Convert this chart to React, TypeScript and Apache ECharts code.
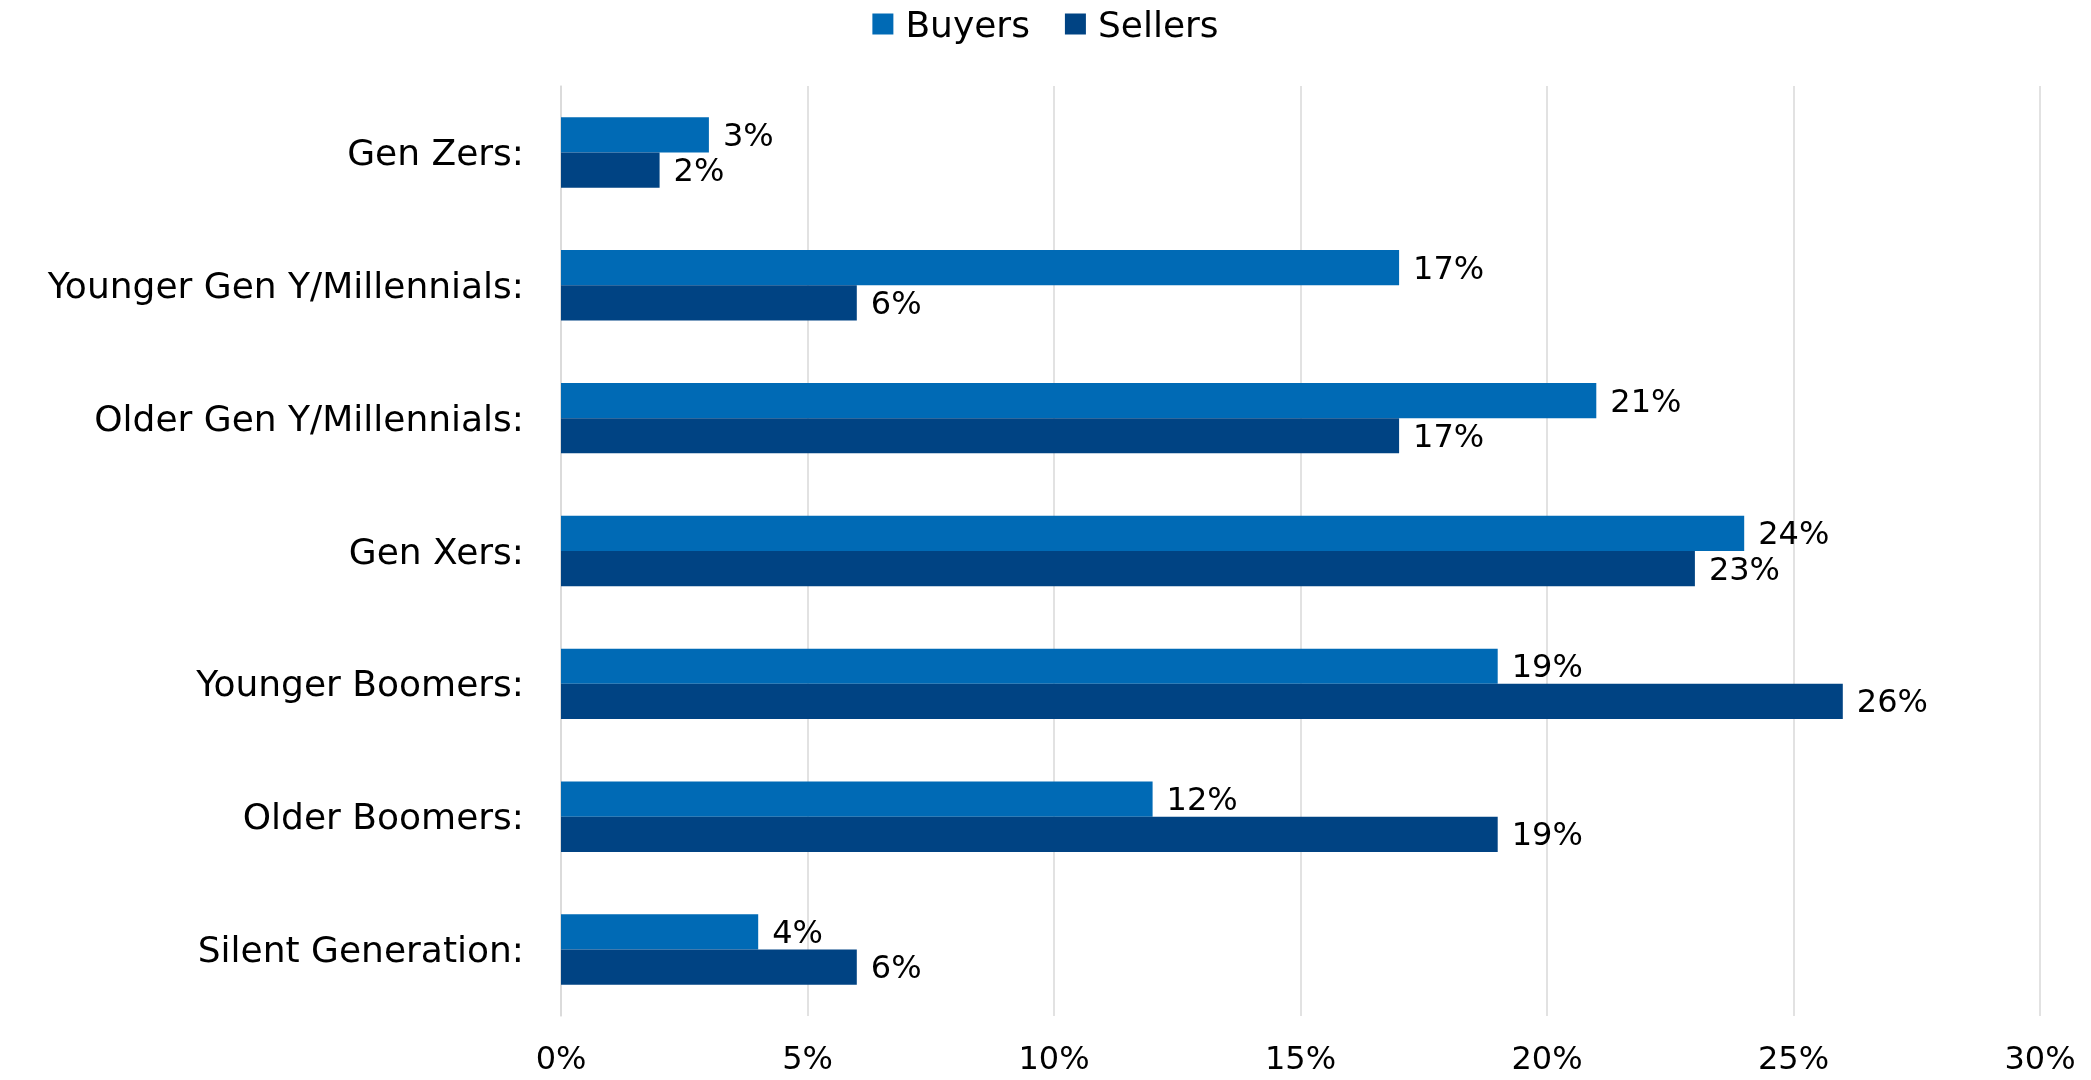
import React, { useEffect, useRef } from "react";
import * as echarts from "echarts";

const categories = [
  "Gen Zers:",
  "Younger Gen Y/Millennials:",
  "Older Gen Y/Millennials:",
  "Gen Xers:",
  "Younger Boomers:",
  "Older Boomers:",
  "Silent Generation:",
];
const buyers = [3, 17, 21, 24, 19, 12, 4];
const sellers = [2, 6, 17, 23, 26, 19, 6];
const xTicks = [0, 5, 10, 15, 20, 25, 30];

const FONT = "'DejaVu Sans', sans-serif";

export default function App() {
  const ref = useRef<HTMLDivElement>(null);
  useEffect(() => {
    if (!ref.current) return;
    const chart = echarts.init(ref.current, null, { renderer: "svg" });
    const label = {
      show: true,
      position: "right",
      distance: 14,
      formatter: "{c}%",
      color: "#000",
      fontSize: 32,
      fontFamily: FONT,
    };
    chart.setOption({
      animation: false,
      textStyle: { fontFamily: FONT },
      legend: {
        top: 6,
        left: "center",
        padding: 0,
        itemWidth: 21,
        itemHeight: 21,
        itemGap: 35,
        icon: "rect",
        textStyle: { fontSize: 36, color: "#000", fontFamily: FONT, padding: [0, 0, 0, 7] },
        data: ["Buyers", "Sellers"],
      },
      grid: { left: 561, right: 51, top: 86, bottom: 64, containLabel: false },
      xAxis: {
        type: "value",
        min: xTicks[0],
        max: xTicks[xTicks.length - 1],
        interval: 5,
        axisLine: { show: false },
        axisTick: { show: false },
        splitLine: { show: true, lineStyle: { color: "#d9d9d9", width: 1.5 } },
        axisLabel: {
          formatter: "{value}%",
          fontSize: 32,
          color: "#000",
          fontFamily: FONT,
          margin: 26,
        },
      },
      yAxis: {
        type: "category",
        inverse: true,
        data: categories,
        axisLine: { show: true, lineStyle: { color: "#d9d9d9", width: 1.5 } },
        axisTick: { show: false },
        axisLabel: { fontSize: 36, color: "#000", fontFamily: FONT, margin: 37 },
      },
      series: [
        {
          name: "Buyers",
          type: "bar",
          data: buyers,
          barGap: "0%",
          barCategoryGap: "47%",
          itemStyle: { color: "#006AB5" },
          label,
        },
        {
          name: "Sellers",
          type: "bar",
          data: sellers,
          barGap: "0%",
          barCategoryGap: "47%",
          itemStyle: { color: "#004383" },
          label,
        },
      ],
    });
    return () => chart.dispose();
  }, []);
  return (
    <div
      ref={ref}
      style={{ position: "fixed", left: 0, top: 0, width: 2091, height: 1080 }}
    />
  );
}
